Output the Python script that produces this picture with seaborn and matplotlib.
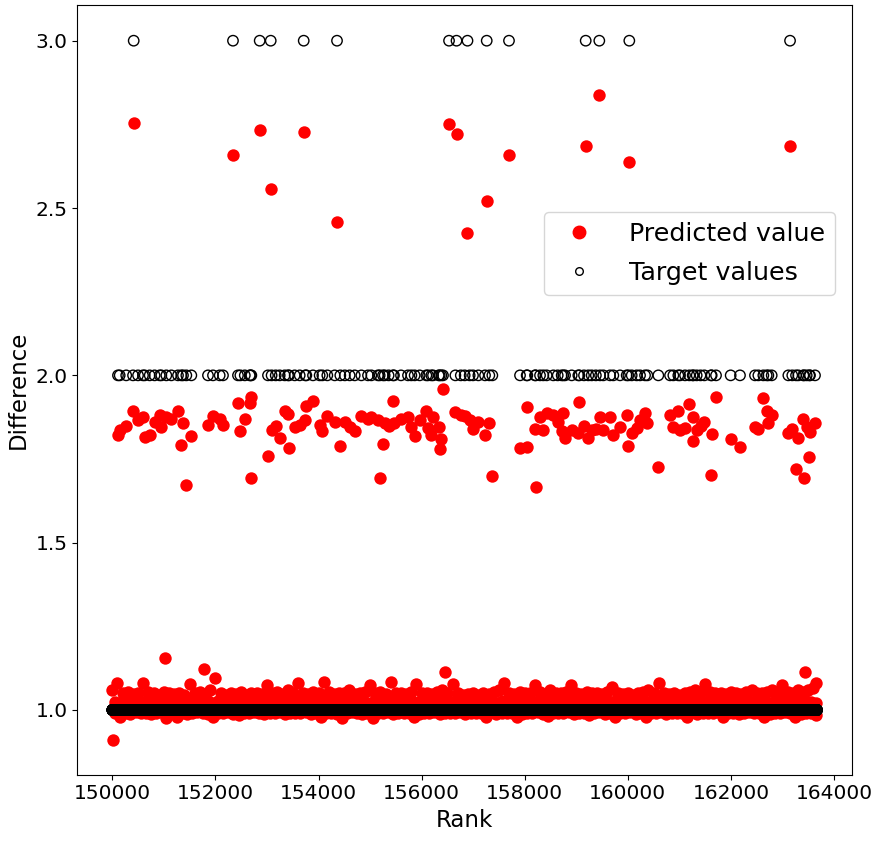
import numpy as np
import pandas as pd
import matplotlib
matplotlib.use("Agg")
import matplotlib.pyplot as plt
from matplotlib.lines import Line2D
import seaborn as sns

# ---------------- data ----------------
# targets equal to 3 and their predictions
three_rank = [150415, 152341, 152859, 153073, 153713, 154359, 156532, 156677,
              156890, 157263, 157695, 159183, 159447, 160029, 163147]
three_pred = [2.753, 2.657, 2.733, 2.557, 2.728, 2.458, 2.750, 2.721,
              2.425, 2.521, 2.659, 2.686, 2.838, 2.637, 2.684]

# targets equal to 2 and their predictions
two_rank = [150110, 150143, 150270, 150402, 150499, 150595, 150628, 150725, 150820, 150919,
            150951, 151048, 151145, 151274, 151339, 151371, 151436, 151533, 151856, 151953,
            152083, 152147, 152438, 152484, 152570, 152665, 152684, 152697, 153020, 153090,
            153170, 153247, 153344, 153408, 153428, 153538, 153635, 153745, 153764, 153893,
            154022, 154074, 154171, 154314, 154423, 154510, 154604, 154702, 154831, 154960,
            155025, 155154, 155186, 155251, 155283, 155360, 155445, 155464, 155600, 155736,
            155801, 155865, 155962, 156092, 156124, 156189, 156221, 156331, 156350, 156383,
            156415, 156655, 156760, 156835, 156932, 156997,
            157101, 157230, 157314, 157372, 157909, 158038, 158051, 158200, 158213, 158297,
            158361, 158426, 158555, 158640, 158717, 158749, 158782, 158911, 159040, 159060,
            159150, 159234, 159299, 159380, 159461, 159525, 159655, 159719, 159849, 159978,
            160010, 160075, 160172, 160237, 160334, 160379, 160592, 160819, 160883, 160980,
            161013, 161110, 161194, 161258, 161271, 161336, 161410, 161485, 161614, 161627,
            161711, 161995, 162176, 162467, 162532, 162629, 162694, 162726, 162791, 163114,
            163190, 163263, 163308, 163405, 163418, 163470, 163521, 163534, 163631]
two_pred = [1.822, 1.837, 1.850, 1.894, 1.867, 1.877, 1.817, 1.822, 1.860, 1.882,
            1.845, 1.877, 1.869, 1.894, 1.792, 1.857, 1.672, 1.819, 1.852, 1.879,
            1.869, 1.852, 1.918, 1.834, 1.870, 1.916, 1.692, 1.936, 1.759, 1.837,
            1.850, 1.812, 1.892, 1.884, 1.784, 1.845, 1.852, 1.867, 1.909, 1.922,
            1.852, 1.834, 1.879, 1.862, 1.789, 1.860, 1.845, 1.834, 1.879, 1.869,
            1.877, 1.867, 1.692, 1.794, 1.859, 1.850, 1.922, 1.857, 1.870, 1.877,
            1.847, 1.819, 1.867, 1.892, 1.842, 1.822, 1.877, 1.845, 1.779, 1.809,
            1.958, 1.889, 1.880, 1.879, 1.867, 1.839,
            1.862, 1.822, 1.857, 1.699, 1.782, 1.785, 1.904, 1.839, 1.665, 1.877,
            1.837, 1.887, 1.882, 1.860, 1.835, 1.887, 1.812, 1.837, 1.829, 1.920,
            1.850, 1.812, 1.837, 1.840, 1.877, 1.837, 1.877, 1.822, 1.847, 1.882,
            1.789, 1.829, 1.842, 1.867, 1.887, 1.857, 1.727, 1.882, 1.847, 1.892,
            1.837, 1.842, 1.915, 1.805, 1.877, 1.837, 1.850, 1.862, 1.702, 1.825,
            1.936, 1.809, 1.785, 1.847, 1.839, 1.931, 1.892, 1.857, 1.882, 1.829,
            1.840, 1.719, 1.812, 1.869, 1.692, 1.845, 1.757, 1.832, 1.859]

# targets equal to 1: every other rank in this span
one_first_rank = 150000
one_last_rank = 163670

# predictions for target 1 -- dense band read per 100-rank bin (upper, middle, lower)
band_first_rank = 150000
band_bin = 100
band_hi = [1.060, 1.080, 1.050, 1.055, 1.048, 1.052, 1.080, 1.055, 1.050, 1.045,
           1.055, 1.050, 1.048, 1.052, 1.045, 1.078, 1.050, 1.055, 1.048, 1.060,
           1.095, 1.050, 1.045, 1.052, 1.048, 1.055, 1.045, 1.050, 1.052, 1.048,
           1.075, 1.050, 1.055, 1.048, 1.060, 1.050, 1.080, 1.052, 1.048, 1.055,
           1.050, 1.085, 1.055, 1.048, 1.050, 1.052, 1.060, 1.048, 1.050, 1.055,
           1.075, 1.050, 1.055, 1.048, 1.085, 1.050, 1.052, 1.048, 1.055, 1.078,
           1.050, 1.052, 1.048, 1.055, 1.060, 1.050, 1.078, 1.050, 1.045, 1.048,
           1.052, 1.045, 1.050, 1.048, 1.055, 1.060, 1.080, 1.052, 1.048, 1.055,
           1.050, 1.052, 1.075, 1.055, 1.048, 1.060, 1.050, 1.052, 1.055, 1.075,
           1.050, 1.048, 1.055, 1.052, 1.050, 1.048, 1.055, 1.070, 1.050, 1.048,
           1.052, 1.045, 1.050, 1.055, 1.060, 1.052, 1.080, 1.050, 1.048, 1.052,
           1.045, 1.050, 1.055, 1.060, 1.052, 1.078, 1.055, 1.050, 1.052, 1.048,
           1.055, 1.050, 1.048, 1.055, 1.060, 1.052, 1.050, 1.055, 1.060, 1.052,
           1.075, 1.055, 1.050, 1.060, 1.055, 1.060, 1.065]
band_mid = [1.025, 1.020, 1.030, 1.022, 1.028, 1.018, 1.026, 1.030, 1.021, 1.027,
            1.024, 1.019, 1.029, 1.023, 1.026, 1.031, 1.020, 1.025, 1.028, 1.022,
            1.027, 1.024, 1.030, 1.019, 1.026, 1.023, 1.029, 1.021, 1.025, 1.028,
            1.020, 1.027, 1.024, 1.030, 1.022, 1.026, 1.019, 1.028, 1.023, 1.025,
            1.030, 1.021, 1.027, 1.024, 1.029, 1.020, 1.026, 1.023, 1.028, 1.022,
            1.025, 1.030, 1.019, 1.027, 1.024, 1.026, 1.021, 1.029, 1.023, 1.025,
            1.028, 1.020, 1.026, 1.024, 1.030, 1.022, 1.027, 1.025, 1.023, 1.029,
            1.021, 1.026, 1.024, 1.028, 1.020, 1.027, 1.023, 1.030, 1.022, 1.025,
            1.029, 1.021, 1.026, 1.024, 1.028, 1.019, 1.027, 1.023, 1.030, 1.022,
            1.025, 1.028, 1.020, 1.026, 1.024, 1.030, 1.021, 1.027, 1.023, 1.025,
            1.029, 1.020, 1.026, 1.024, 1.028, 1.022, 1.027, 1.025, 1.030, 1.021,
            1.026, 1.023, 1.029, 1.020, 1.025, 1.028, 1.022, 1.027, 1.024, 1.030,
            1.021, 1.026, 1.023, 1.028, 1.020, 1.025, 1.029, 1.022, 1.027, 1.024,
            1.030, 1.021, 1.026, 1.023, 1.028, 1.025, 1.022]
band_lo = [0.990, 0.978, 0.992, 0.988, 0.993, 0.990, 0.992, 0.988, 0.990, 0.993,
           0.975, 0.990, 0.978, 0.992, 0.988, 0.990, 0.993, 0.990, 0.988, 0.980,
           0.992, 0.990, 0.993, 0.988, 0.985, 0.990, 0.992, 0.993, 0.990, 0.988,
           0.992, 0.990, 0.993, 0.988, 0.990, 0.992, 0.990, 0.993, 0.988, 0.990,
           0.980, 0.990, 0.992, 0.988, 0.975, 0.990, 0.993, 0.990, 0.988, 0.992,
           0.975, 0.990, 0.992, 0.993, 0.988, 0.990, 0.992, 0.990, 0.980, 0.988,
           0.992, 0.990, 0.993, 0.988, 0.990, 0.992, 0.990, 0.993, 0.988, 0.990,
           0.992, 0.990, 0.980, 0.993, 0.988, 0.990, 0.992, 0.990, 0.980, 0.988,
           0.992, 0.990, 0.993, 0.988, 0.983, 0.990, 0.992, 0.990, 0.993, 0.988,
           0.990, 0.992, 0.985, 0.990, 0.993, 0.988, 0.990, 0.980, 0.992, 0.990,
           0.993, 0.988, 0.990, 0.978, 0.992, 0.990, 0.993, 0.988, 0.990, 0.992,
           0.990, 0.980, 0.993, 0.988, 0.990, 0.992, 0.990, 0.993, 0.978, 0.990,
           0.992, 0.988, 0.990, 0.993, 0.990, 0.992, 0.980, 0.988, 0.990, 0.992,
           0.993, 0.990, 0.978, 0.988, 0.990, 0.992, 0.985]
# isolated predictions for target 1
one_out_rank = [150014, 151016, 151779, 156447, 163437, 163660]
one_out_pred = [0.910, 1.155, 1.122, 1.114, 1.114, 1.080]

x_ticks = [150000, 152000, 154000, 156000, 158000, 160000, 162000, 164000]
y_ticks = [1.0, 1.5, 2.0, 2.5, 3.0]
legend_labels = ["Predicted value", "Target values"]

# ---------------- assemble tables ----------------
n_bins = len(band_hi)
bin_start = band_first_rank + band_bin * np.arange(n_bins)
pred_df = pd.concat([
    pd.DataFrame({"Rank": bin_start, "Difference": band_hi}),
    pd.DataFrame({"Rank": bin_start + band_bin // 2, "Difference": band_mid}),
    pd.DataFrame({"Rank": bin_start + band_bin // 2, "Difference": band_lo}),
    pd.DataFrame({"Rank": one_out_rank, "Difference": one_out_pred}),
    pd.DataFrame({"Rank": two_rank, "Difference": two_pred}),
    pd.DataFrame({"Rank": three_rank, "Difference": three_pred}),
], ignore_index=True)

one_rank = np.arange(one_first_rank, one_last_rank + 1)
one_rank = one_rank[~np.isin(one_rank, two_rank + three_rank)]
target_df = pd.concat([
    pd.DataFrame({"Rank": one_rank, "Difference": 1.0}),
    pd.DataFrame({"Rank": two_rank, "Difference": 2.0}),
    pd.DataFrame({"Rank": three_rank, "Difference": 3.0}),
], ignore_index=True)

# ---------------- plot ----------------
fig = plt.figure(figsize=(8.73, 8.46), dpi=100)
ax = fig.add_axes([77.3 / 873, 1 - 774.7 / 846, (851.7 - 77.3) / 873, (774.7 - 5) / 846])

sns.scatterplot(data=pred_df, x="Rank", y="Difference", color="red", s=80,
                linewidth=0, edgecolor="red", legend=False, ax=ax)
sns.scatterplot(data=target_df, x="Rank", y="Difference", color="black", s=56,
                linewidth=1.0, legend=False, ax=ax)
tcoll = ax.collections[-1]
tcoll.set_facecolor("none")
tcoll.set_edgecolor("black")

ax.set_xlim(149321, 164343)
ax.set_ylim(0.8066, 3.1067)
ax.set_xticks(x_ticks)
ax.set_yticks(y_ticks)
ax.set_xticklabels([str(t) for t in x_ticks])
ax.set_yticklabels([f"{t:.1f}" for t in y_ticks])
ax.tick_params(labelsize=14.5)
ax.set_xlabel("Rank", fontsize=16.5)
ax.set_ylabel("Difference", fontsize=16.5)

handles = [
    Line2D([], [], marker="o", linestyle="", color="red", markersize=9),
    Line2D([], [], marker="o", linestyle="", markerfacecolor="none",
           markeredgecolor="black", markeredgewidth=1.0, markersize=5.5),
]
ax.legend(handles, legend_labels, loc="upper right", fontsize=18.3,
          bbox_to_anchor=(0.9784, 0.7315), borderaxespad=0,
          handletextpad=0.95, labelspacing=0.6)

fig.savefig("out.png", dpi=100)
